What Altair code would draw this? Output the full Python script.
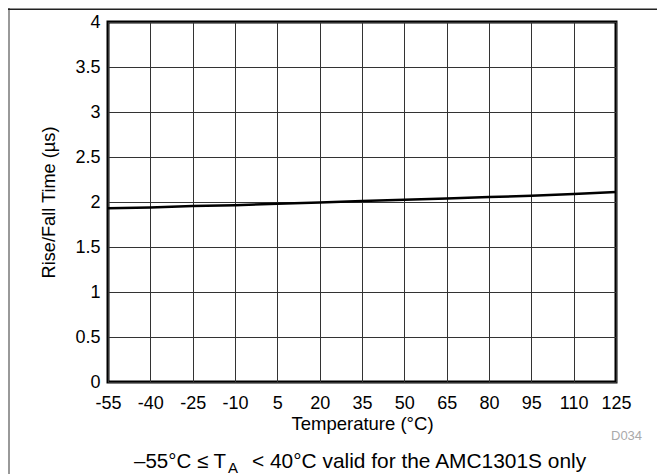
import altair as alt
import pandas as pd

# ---- data ----
temperature = [-55, -40, -25, -10, 5, 20, 35, 50, 65, 80, 95, 110, 125]
rise_fall_us = [1.93, 1.94, 1.955, 1.965, 1.98, 1.995, 2.01, 2.025, 2.04, 2.055, 2.07, 2.09, 2.11]
x_ticks = [-55, -40, -25, -10, 5, 20, 35, 50, 65, 80, 95, 110, 125]
y_ticks = [0, 0.5, 1, 1.5, 2, 2.5, 3, 3.5, 4]

x_title = "Temperature (°C)"
y_title = "Rise/Fall Time (µs)"
note_part1 = "–55°C ≤ T"
note_sub = "A"
note_part2 = "< 40°C valid for the AMC1301S only"
doc_id = "D034"

FONT = "Liberation Sans"
W, H = 508, 360
PB = 92

df = pd.DataFrame({"Temperature": temperature, "RiseFall": rise_fall_us})

line = alt.Chart(df).mark_line(color="black", strokeWidth=2.5).encode(
    x=alt.X(
        "Temperature:Q",
        scale=alt.Scale(domain=[-55, 125], nice=False, zero=False),
        axis=alt.Axis(
            values=x_ticks, title=x_title, labelExpr="'' + datum.value",
            ticks=False, tickSize=0, domain=False,
            grid=True, gridColor="#333333", gridWidth=1, gridOpacity=1,
            labelFont=FONT, labelFontSize=18, labelColor="black", labelPadding=12,
            titleFont=FONT, titleFontSize=18.5, titleFontWeight="normal",
            titleColor="black", titlePadding=2, labelFlush=False,
        ),
    ),
    y=alt.Y(
        "RiseFall:Q",
        scale=alt.Scale(domain=[0, 4], nice=False),
        axis=alt.Axis(
            values=y_ticks, title=y_title, labelExpr="'' + datum.value",
            ticks=False, tickSize=0, domain=False,
            grid=True, gridColor="#333333", gridWidth=1, gridOpacity=1,
            labelFont=FONT, labelFontSize=18, labelColor="black", labelPadding=8,
            titleFont=FONT, titleFontSize=18.2, titleFontWeight="normal",
            titleColor="black", titlePadding=16, labelFlush=False,
        ),
    ),
)

one = pd.DataFrame({"k": [0]})

def text_mark(txt, x, y, size, align="left", color="black"):
    return alt.Chart(one).mark_text(
        text=txt, font=FONT, fontSize=size, align=align, baseline="alphabetic",
        color=color,
    ).encode(x=alt.value(x), y=alt.value(y))

note1 = text_mark(note_part1, 118, 446, 20.5, align="right")
note_a = text_mark(note_sub, 120, 450.5, 15)
note2 = text_mark(note_part2, 144, 446, 20.9)
docid = text_mark(doc_id, 503, 418, 13, color="#aaaaaa")

border_left = alt.Chart(one).mark_rule(color="#555555", strokeWidth=1.2).encode(
    x=alt.value(-99), y=alt.value(-14), y2=alt.value(H + PB)
)
border_top = alt.Chart(one).mark_rect(color="#222222").encode(
    x=alt.value(-100), x2=alt.value(W + 41), y=alt.value(-13.5), y2=alt.value(-12)
)

chart = alt.layer(
    line, note1, note_a, note2, docid, border_left, border_top
).properties(
    width=W, height=H,
    autosize=alt.AutoSizeParams(type="none"),
    padding={"left": 100, "top": 14, "right": 41, "bottom": PB},
    background="white",
).configure_view(
    stroke="black", strokeWidth=3
)

chart.save("out.html", embed_options={"renderer": "svg", "actions": False})
